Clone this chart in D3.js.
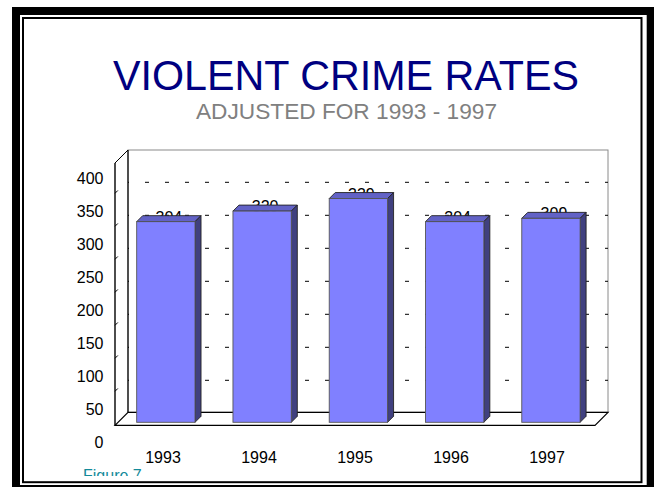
<!DOCTYPE html>
<html>
<head>
<meta charset="utf-8">
<script src="https://cdn.jsdelivr.net/npm/d3@7"></script>
<style>
  html, body { margin: 0; padding: 0; background: #fff; }
  svg { display: block; }
  text { font-family: "Liberation Sans", Arial, sans-serif; }
</style>
</head>
<body>
<script>
// ---- data ----
const years = ["1993", "1994", "1995", "1996", "1997"];
const rates = [304, 320, 339, 304, 309];
const tickValues = [0, 50, 100, 150, 200, 250, 300, 350, 400];
const gridValues = [100, 150, 200, 250, 300, 350, 400];
const titleText = "VIOLENT CRIME RATES";
const subtitleText = "ADJUSTED FOR 1993 - 1997";
const footText = "Figure 7";

const W = 654, H = 487;
const svg = d3.select("body").append("svg").attr("width", W).attr("height", H);

// ---- frame ----
svg.append("rect").attr("x", 12).attr("y", 7).attr("width", 700).attr("height", 600).attr("fill", "#000");
svg.append("rect").attr("x", 20).attr("y", 15).attr("width", 626.7).attr("height", 470).attr("fill", "#fff");
svg.append("rect").attr("x", 23).attr("y", 18).attr("width", 618.5).attr("height", 464.2)
  .attr("fill", "#fff").attr("stroke", "#000").attr("stroke-width", 2);

// ---- titles ----
svg.append("text").attr("x", 346).attr("y", 90).attr("text-anchor", "middle")
  .attr("font-size", 43).attr("fill", "#000080")
  .attr("textLength", 466).attr("lengthAdjust", "spacingAndGlyphs").text(titleText);
svg.append("text").attr("x", 346.5).attr("y", 119).attr("text-anchor", "middle")
  .attr("font-size", 22).attr("fill", "#808080")
  .attr("textLength", 301).attr("lengthAdjust", "spacingAndGlyphs").text(subtitleText);

// ---- geometry of the 3D plot ----
const frontL = 115, frontR = 595;      // front plane x extent
const depth = 13;                       // wall depth offset (x right, y up)
const backTop = 150;
const backFloor = 412.3, frontFloor = backFloor + depth;

// scale for gridlines on the back wall and tick labels
const yGrid = d3.scaleLinear().domain([0, 400]).range([446.3, 182.3]);
// scale for the bars (front face)
const yBar = d3.scaleLinear().domain([0, 400]).range([422.3, 422.3 - 264]);

const x = d3.scaleBand().domain(years).range([frontL, frontR]).paddingInner(0.394).paddingOuter(0.19);
const xLab = d3.scaleBand().domain(years).range([frontL, frontR]);
const barShift = 3.4;   // bars sit mid-depth
const bd = 6;           // bar depth

const g = svg.append("g");

// back wall
g.append("rect").attr("x", frontL + depth).attr("y", backTop)
  .attr("width", frontR - frontL).attr("height", backFloor - backTop)
  .attr("fill", "#fff").attr("stroke", "#8a8a8a").attr("stroke-width", 1);

// gridlines on back wall
g.selectAll(".grid").data(gridValues).join("line")
  .attr("x1", frontL + depth).attr("x2", frontR + depth)
  .attr("y1", d => yGrid(d)).attr("y2", d => yGrid(d))
  .attr("stroke", "#000").attr("stroke-width", 1)
  .attr("stroke-dasharray", "4,16").attr("stroke-dashoffset", 3);

// side wall gridlines (short pieces near front)
g.selectAll(".sgrid").data(gridValues).join("line")
  .attr("x1", frontL).attr("y1", d => yGrid(d) + depth - 2)
  .attr("x2", frontL + depth).attr("y2", d => yGrid(d) - 2)
  .attr("stroke", "#000").attr("stroke-width", 1)
  .attr("stroke-dasharray", "4,30");

// back-wall left edge
g.append("line").attr("x1", frontL + depth).attr("x2", frontL + depth)
  .attr("y1", backTop).attr("y2", backFloor).attr("stroke", "#000").attr("stroke-width", 1.2);

// floor
g.append("path")
  .attr("d", `M${frontL},${frontFloor} L${frontL + depth},${backFloor} L${frontR + depth},${backFloor} L${frontR},${frontFloor} Z`)
  .attr("fill", "#fff").attr("stroke", "#000").attr("stroke-width", 1.2);

// front axis line and top slant
g.append("line").attr("x1", frontL).attr("x2", frontL).attr("y1", backTop + depth).attr("y2", frontFloor)
  .attr("stroke", "#000").attr("stroke-width", 1.4);
g.append("line").attr("x1", frontL).attr("y1", backTop + depth).attr("x2", frontL + depth).attr("y2", backTop)
  .attr("stroke", "#000").attr("stroke-width", 1);

// data labels (drawn before bars so bars cover them)
g.selectAll(".dlab").data(years).join("text")
  .attr("x", (d) => x(d) + x.bandwidth() / 2 + barShift + bd / 2)
  .attr("y", (d, i) => yBar(rates[i]) - bd + 7)
  .attr("text-anchor", "middle").attr("font-size", 16).attr("fill", "#000")
  .text((d, i) => rates[i]);

// bars
const bars = g.selectAll(".bar").data(years).join("g");
bars.each(function (d, i) {
  const b = d3.select(this);
  const x0 = x(d) + barShift, x1 = x0 + x.bandwidth();
  const yt = yBar(rates[i]), yb = yBar(0);
  // top
  b.append("path").attr("d", `M${x0},${yt} L${x0 + bd},${yt - bd} L${x1 + bd},${yt - bd} L${x1},${yt} Z`)
    .attr("fill", "#6262c6").attr("stroke", "#222").attr("stroke-width", 0.9);
  // side
  b.append("path").attr("d", `M${x1},${yt} L${x1 + bd},${yt - bd} L${x1 + bd},${yb - bd} L${x1},${yb} Z`)
    .attr("fill", "#40407f").attr("stroke", "#222").attr("stroke-width", 0.9);
  // front
  b.append("rect").attr("x", x0).attr("y", yt).attr("width", x1 - x0).attr("height", yb - yt)
    .attr("fill", "#8080ff").attr("stroke", "#555").attr("stroke-width", 0.9);
});

// y tick labels
g.selectAll(".ylab").data(tickValues).join("text")
  .attr("x", 103.5).attr("y", d => yGrid(d) + 1.5)
  .attr("text-anchor", "end").attr("font-size", 16).attr("fill", "#000")
  .text(d => d);

// x labels
g.selectAll(".xlab").data(years).join("text")
  .attr("x", d => xLab(d) + xLab.bandwidth() / 2).attr("y", 462.5)
  .attr("text-anchor", "middle").attr("font-size", 16).attr("fill", "#000")
  .text(d => d);

// Figure 7 (clipped at the bottom)
svg.append("clipPath").attr("id", "figclip").append("rect")
  .attr("x", 24).attr("y", 440).attr("width", 200).attr("height", 36);
svg.append("text").attr("x", 83).attr("y", 481).attr("font-size", 16).attr("fill", "#138a9a")
  .attr("clip-path", "url(#figclip)").text(footText);
</script>
</body>
</html>
